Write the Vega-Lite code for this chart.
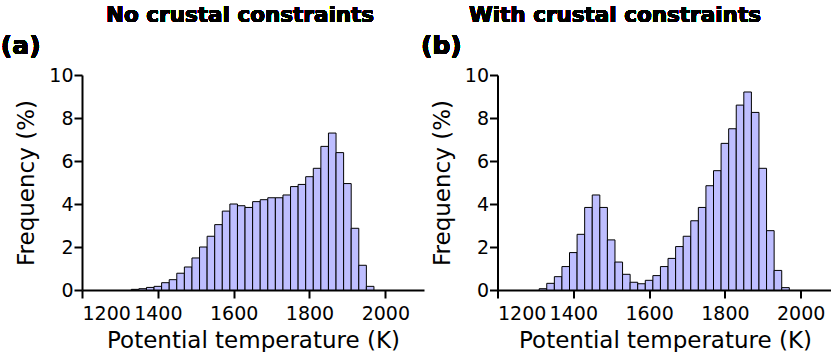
{
  "$schema": "https://vega.github.io/schema/vega-lite/v6.json",
  "padding": {"left": 0, "top": 4, "right": 0, "bottom": 0},
  "background": "white",
  "spacing": 73.5,
  "bounds": "flush",
  "config": {
    "view": {"stroke": null},
    "axis": {
      "grid": false,
      "domainColor": "black",
      "domainWidth": 2,
      "tickColor": "black",
      "tickWidth": 2,
      "tickSize": 8,
      "labelFont": "DejaVu Sans",
      "labelFontSize": 19,
      "labelColor": "black",
      "titleFont": "DejaVu Sans",
      "titleFontSize": 23,
      "titleFontWeight": "normal",
      "titleColor": "black"
    },
    "axisX": {"labelPadding": 6, "titlePadding": 6, "format": "d"},
    "axisY": {"labelPadding": 1, "titlePadding": 10}
  },
  "datasets": {
    "a": [
      {"lo": 1330, "hi": 1350, "freq": 0.03},
      {"lo": 1350, "hi": 1370, "freq": 0.06},
      {"lo": 1370, "hi": 1390, "freq": 0.12},
      {"lo": 1390, "hi": 1410, "freq": 0.17},
      {"lo": 1410, "hi": 1430, "freq": 0.34},
      {"lo": 1430, "hi": 1450, "freq": 0.48},
      {"lo": 1450, "hi": 1470, "freq": 0.78},
      {"lo": 1470, "hi": 1490, "freq": 1.07},
      {"lo": 1490, "hi": 1510, "freq": 1.49},
      {"lo": 1510, "hi": 1530, "freq": 2.0},
      {"lo": 1530, "hi": 1550, "freq": 2.5},
      {"lo": 1550, "hi": 1570, "freq": 3.04},
      {"lo": 1570, "hi": 1590, "freq": 3.67},
      {"lo": 1590, "hi": 1610, "freq": 4.0},
      {"lo": 1610, "hi": 1630, "freq": 3.92},
      {"lo": 1630, "hi": 1650, "freq": 3.84},
      {"lo": 1650, "hi": 1670, "freq": 4.11},
      {"lo": 1670, "hi": 1690, "freq": 4.2},
      {"lo": 1690, "hi": 1710, "freq": 4.29},
      {"lo": 1710, "hi": 1730, "freq": 4.29},
      {"lo": 1730, "hi": 1750, "freq": 4.42},
      {"lo": 1750, "hi": 1770, "freq": 4.81},
      {"lo": 1770, "hi": 1790, "freq": 4.91},
      {"lo": 1790, "hi": 1810, "freq": 5.27},
      {"lo": 1810, "hi": 1830, "freq": 5.66},
      {"lo": 1830, "hi": 1850, "freq": 6.68},
      {"lo": 1850, "hi": 1870, "freq": 7.3},
      {"lo": 1870, "hi": 1890, "freq": 6.39},
      {"lo": 1890, "hi": 1910, "freq": 4.95},
      {"lo": 1910, "hi": 1930, "freq": 2.87},
      {"lo": 1930, "hi": 1950, "freq": 1.15},
      {"lo": 1950, "hi": 1970, "freq": 0.17}
    ],
    "b": [
      {"lo": 1310, "hi": 1330, "freq": 0.06},
      {"lo": 1330, "hi": 1350, "freq": 0.31},
      {"lo": 1350, "hi": 1370, "freq": 0.62},
      {"lo": 1370, "hi": 1390, "freq": 1.09},
      {"lo": 1390, "hi": 1410, "freq": 1.74},
      {"lo": 1410, "hi": 1430, "freq": 2.59},
      {"lo": 1430, "hi": 1450, "freq": 3.84},
      {"lo": 1450, "hi": 1470, "freq": 4.42},
      {"lo": 1470, "hi": 1490, "freq": 3.84},
      {"lo": 1490, "hi": 1510, "freq": 2.33},
      {"lo": 1510, "hi": 1530, "freq": 1.3},
      {"lo": 1530, "hi": 1550, "freq": 0.73},
      {"lo": 1550, "hi": 1570, "freq": 0.36},
      {"lo": 1570, "hi": 1590, "freq": 0.29},
      {"lo": 1590, "hi": 1610, "freq": 0.45},
      {"lo": 1610, "hi": 1630, "freq": 0.67},
      {"lo": 1630, "hi": 1650, "freq": 1.09},
      {"lo": 1650, "hi": 1670, "freq": 1.47},
      {"lo": 1670, "hi": 1690, "freq": 2.02},
      {"lo": 1690, "hi": 1710, "freq": 2.5},
      {"lo": 1710, "hi": 1730, "freq": 3.22},
      {"lo": 1730, "hi": 1750, "freq": 3.84},
      {"lo": 1750, "hi": 1770, "freq": 4.85},
      {"lo": 1770, "hi": 1790, "freq": 5.55},
      {"lo": 1790, "hi": 1810, "freq": 6.82},
      {"lo": 1810, "hi": 1830, "freq": 7.5},
      {"lo": 1830, "hi": 1850, "freq": 8.6},
      {"lo": 1850, "hi": 1870, "freq": 9.21},
      {"lo": 1870, "hi": 1890, "freq": 8.26},
      {"lo": 1890, "hi": 1910, "freq": 5.66},
      {"lo": 1910, "hi": 1930, "freq": 2.76},
      {"lo": 1930, "hi": 1950, "freq": 0.91},
      {"lo": 1950, "hi": 1970, "freq": 0.11}
    ]
  },
  "hconcat": [
    {
      "width": 342,
      "height": 215,
      "data": {"name": "a"},
      "layer": [
        {
          "mark": {"type": "bar", "fill": "#BEBEFF", "stroke": "black", "strokeWidth": 1},
          "encoding": {
            "x": {"field": "lo", "type": "quantitative",
              "scale": {"domain": [1200, 2102], "nice": false, "zero": false},
              "axis": {"values": [1200, 1400, 1600, 1800, 2000], "title": "Potential temperature (K)"}},
            "x2": {"field": "hi"},
            "y": {"field": "freq", "type": "quantitative",
              "scale": {"domain": [0, 10], "nice": false},
              "axis": {"values": [0, 2, 4, 6, 8, 10], "title": "Frequency (%)"}},
            "y2": {"datum": 0}
          }
        },
        {
          "mark": {"type": "text", "text": "No crustal constraints", "font": "DejaVu Sans", "fontWeight": "bold", "fontSize": 21.5, "align": "center", "baseline": "alphabetic", "clip": false, "color": "black"},
          "encoding": {"x": {"datum": 1617, "type": "quantitative"}, "y": {"datum": 12.48, "type": "quantitative"}}
        },
        {
          "mark": {"type": "text", "text": "(a)", "font": "DejaVu Sans", "fontWeight": "bold", "fontSize": 25, "align": "left", "baseline": "alphabetic", "clip": false, "color": "black"},
          "encoding": {"x": {"datum": 986, "type": "quantitative"}, "y": {"datum": 11.0, "type": "quantitative"}}
        }
      ]
    },
    {
      "width": 335,
      "height": 215,
      "data": {"name": "b"},
      "layer": [
        {
          "mark": {"type": "bar", "fill": "#BEBEFF", "stroke": "black", "strokeWidth": 1},
          "encoding": {
            "x": {"field": "lo", "type": "quantitative",
              "scale": {"domain": [1200, 2084], "nice": false, "zero": false},
              "axis": {"values": [1200, 1400, 1600, 1800, 2000], "title": "Potential temperature (K)"}},
            "x2": {"field": "hi"},
            "y": {"field": "freq", "type": "quantitative",
              "scale": {"domain": [0, 10], "nice": false},
              "axis": {"values": [0, 2, 4, 6, 8, 10], "title": "Frequency (%)"}},
            "y2": {"datum": 0}
          }
        },
        {
          "mark": {"type": "text", "text": "With crustal constraints", "font": "DejaVu Sans", "fontWeight": "bold", "fontSize": 21.5, "align": "center", "baseline": "alphabetic", "clip": false, "color": "black"},
          "encoding": {"x": {"datum": 1510, "type": "quantitative"}, "y": {"datum": 12.48, "type": "quantitative"}}
        },
        {
          "mark": {"type": "text", "text": "(b)", "font": "DejaVu Sans", "fontWeight": "bold", "fontSize": 25, "align": "left", "baseline": "alphabetic", "clip": false, "color": "black"},
          "encoding": {"x": {"datum": 998, "type": "quantitative"}, "y": {"datum": 11.0, "type": "quantitative"}}
        }
      ]
    }
  ]
}
